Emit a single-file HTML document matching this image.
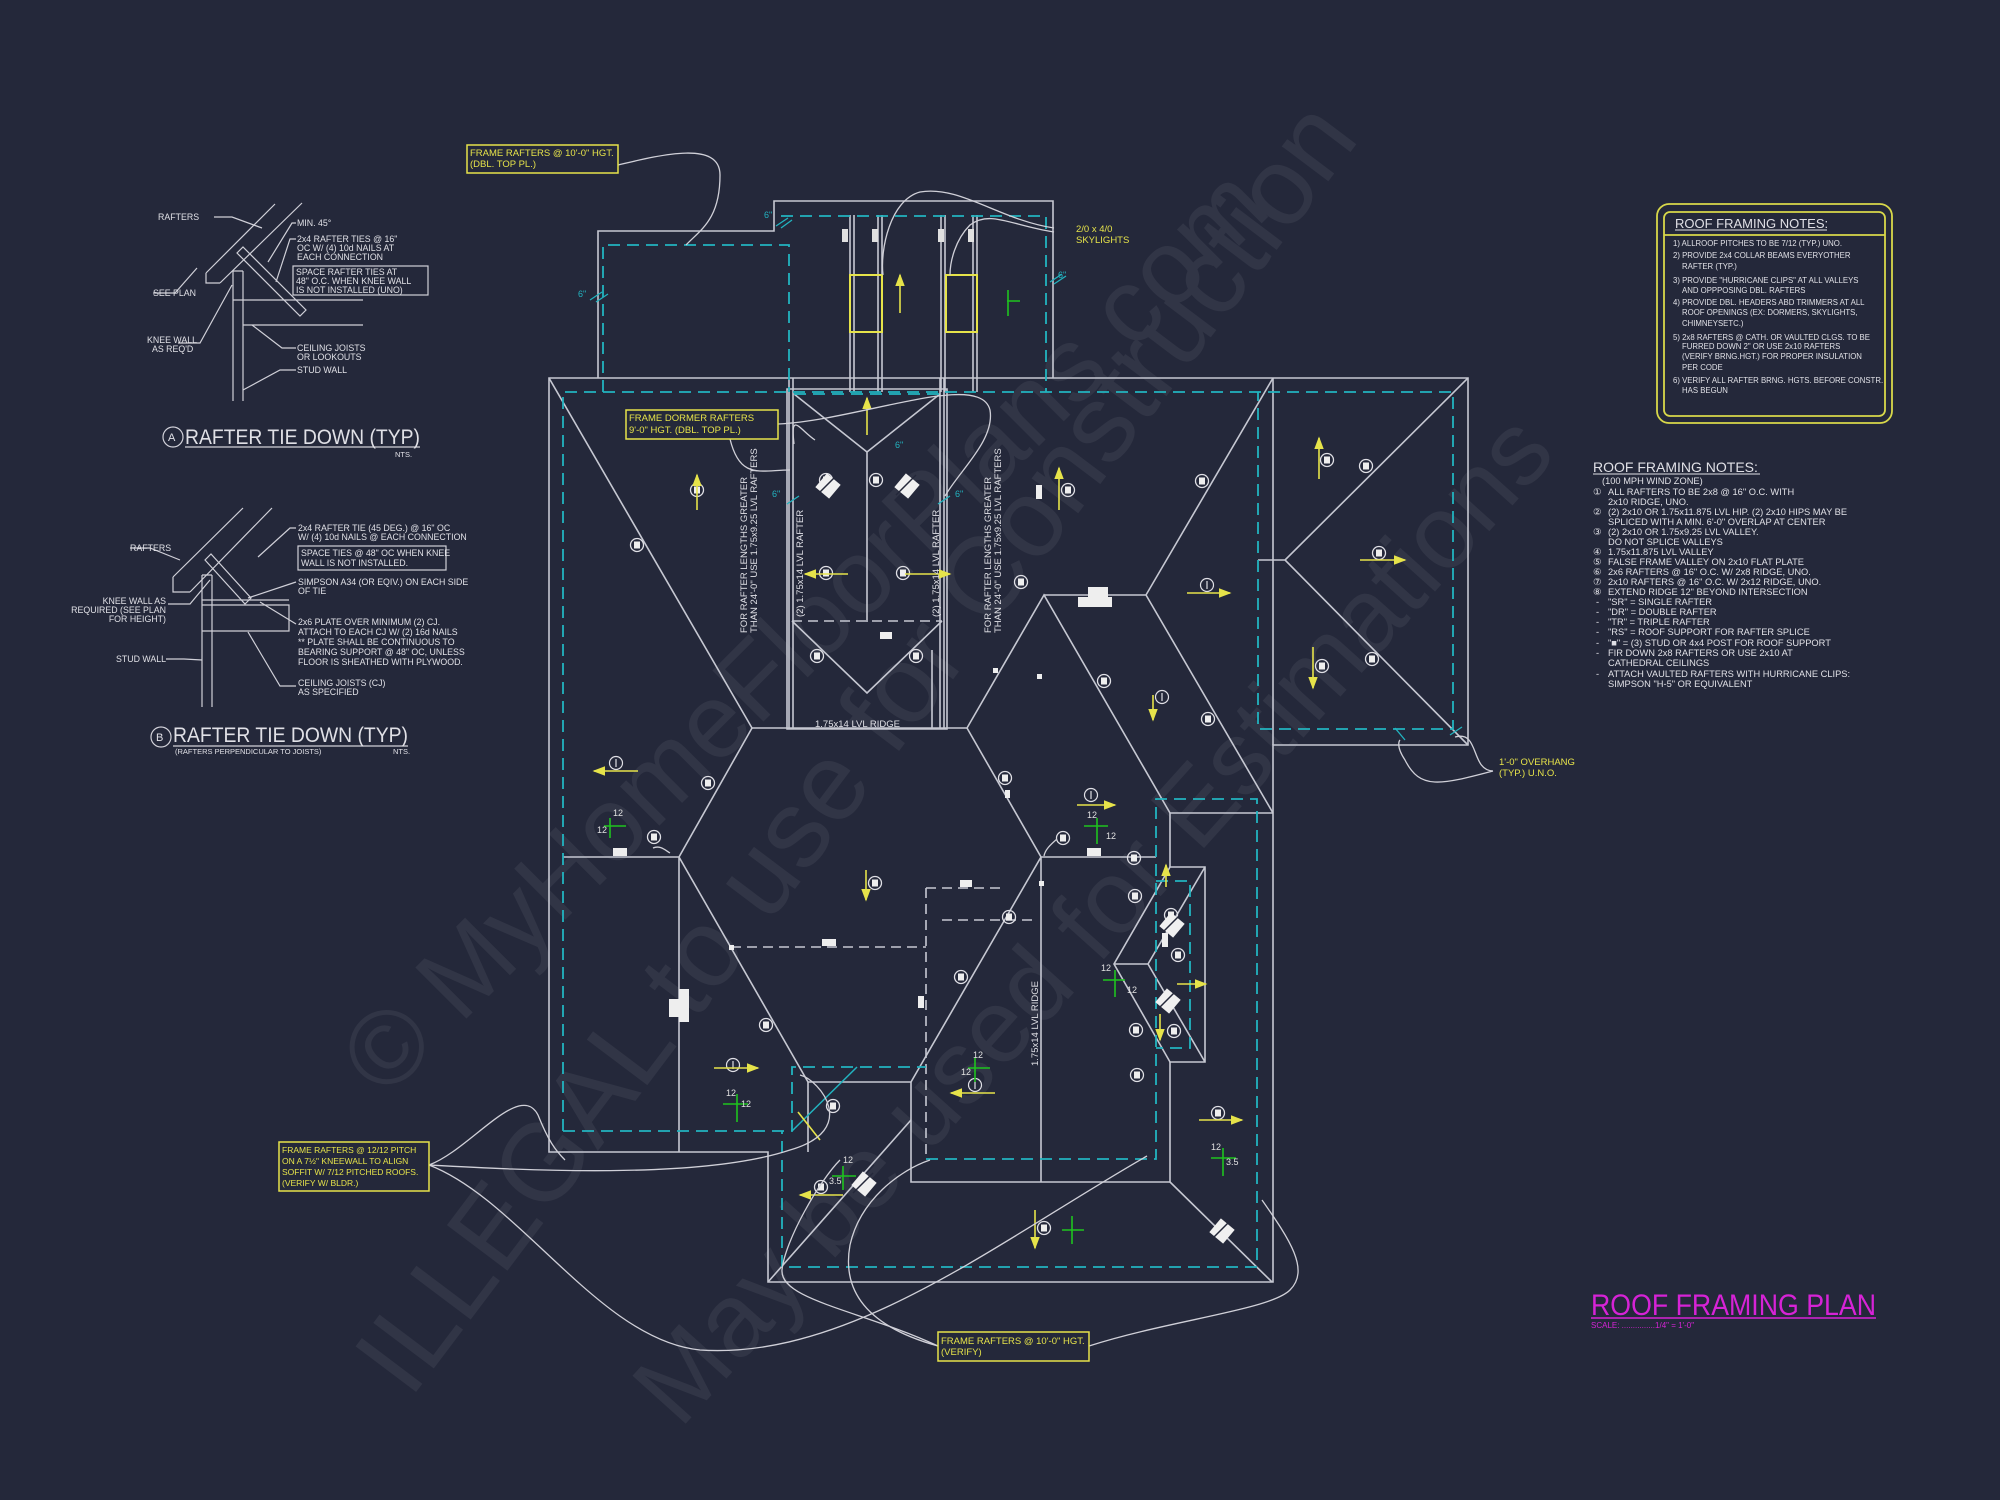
<!DOCTYPE html>
<html><head><meta charset="utf-8"><style>
html,body{margin:0;padding:0;background:#24283a;}
svg{display:block}
text{font-family:"Liberation Sans",sans-serif;}
</style></head><body>
<svg width="2000" height="1500" viewBox="0 0 2000 1500" xmlns="http://www.w3.org/2000/svg">
<defs>
<g id="tag"><circle r="6.5" fill="none" stroke="#e0e0e6" stroke-width="1.3"/><rect x="-3" y="-3.5" width="6" height="7" fill="#eeeeee"/></g>
<g id="one"><circle r="6.5" fill="none" stroke="#e0e0e6" stroke-width="1.2"/><line x1="0" y1="-4" x2="0" y2="4" stroke="#e0e0e6" stroke-width="1.2"/></g>
<g id="dia"><rect x="-9" y="-9" width="18" height="18" fill="#f0f0f0" transform="rotate(40)"/><line x1="-11" y1="9" x2="9" y2="-11" stroke="#24283a" stroke-width="1.5"/></g>
<marker id="ah" markerWidth="8" markerHeight="6" refX="7" refY="3" orient="auto"><path d="M0,0 L8,3 L0,6z" fill="#e6e34a"/></marker>
</defs>
<rect width="2000" height="1500" fill="#24283a"/>

<!-- watermark -->
<g fill="#ffffff" opacity="0.06" font-family="Liberation Serif,serif">
<text transform="translate(385,1100) rotate(-45)" font-size="105">© MyHomeFloorPlans.com</text>
<text transform="translate(410,1400) rotate(-53)" font-size="110">ILLEGAL to use for Construction</text>
<text transform="translate(680,1430) rotate(-48)" font-size="104">May be used for Estimations</text>
</g>

<!-- SOLID outlines -->
<g fill="none" stroke="#c6c8d2" stroke-width="1.6">
<path d="M598,378 V231 H774 V201 H1053 V378"/>
<path d="M549,378 H1468 V745 H1273 V1282 H768 V1152 H549 Z"/>
<path d="M1273,378 V745"/>
<path d="M808,1152 V1082 H911 V1182 H1170 V1062 M1170,867 V813 H1273"/>
<path d="M1170,867 H1205 V1062 H1170 L1114,964 Z M1205,867 L1148,964 L1205,1062 M1114,964 H1148"/>
<path d="M549,378 L752,728 H967 L1044,595 L1170,813"/>
<path d="M1044,595 H1146 L1273,378 M1146,595 L1273,813"/>
<path d="M752,728 L679,857 L808,1082 M679,857 V1152 M563,857 H679"/>
<path d="M967,728 L1041,857 L911,1082 M1041,857 V1182 M1041,857 H1156"/>
<path d="M1468,378 L1285,560 L1468,745 M1258,560 H1285"/>
<path d="M1170,1182 L1272,1282 M911,1120 L768,1282"/>
<path d="M787,389 H947 V729 H787 Z"/>
<path d="M789,378 V729 M793,378 V729 M940,378 V729 M944,378 V729"/>
<path d="M794,394 L867,452 L940,394 M867,452 V622 M792,621 L867,693 L942,621 M932,650 V729"/>
<path d="M850,215 V392 M854,215 V392 M878,215 V392 M882,215 V392 M941,215 V392 M945,215 V392 M973,215 V392 M977,215 V392"/>
</g>
<g fill="none" stroke="#c6c8d2" stroke-width="1.6" stroke-dasharray="10 6">
<path d="M792,621 H942"/>
<path d="M731,947 H926 M926,888 V1160 M926,888 H1005 M942,920 H1034"/>
</g>

<!-- CYAN dashed -->
<g fill="none" stroke="#22b4c0" stroke-width="1.8" stroke-dasharray="12 7">
<path d="M603,392 V245 H789 V392"/>
<path d="M781,216 H1046 V392"/>
<path d="M563,1131 V392 H1453 V729 H1258 V392"/>
<path d="M563,1131 H792 V1067 H926 M926,1159 H1156 V799 H1257 V1267 H782 V1131"/>
<path d="M1156,881 H1190 V1048 H1156"/>
<path d="M794,394 H940"/>
</g>
<g stroke="#22b4c0" stroke-width="1.5">
<line x1="792" y1="1131" x2="857" y2="1067"/>
</g>
<g fill="#22b4c0" font-size="9">
<text x="578" y="297">6"</text><text x="764" y="218">6"</text><text x="1058" y="278">6"</text>
<text x="772" y="497">6"</text><text x="955" y="497">6"</text><text x="895" y="448">6"</text>
</g>
<g stroke="#22b4c0" stroke-width="1.3">
<path d="M590,300 L602,292 M596,302 L608,294 M776,226 L788,218 M781,228 L792,220 M1050,282 L1062,274 M1054,284 L1066,276 M787,504 L799,496 M938,504 L950,496 M1450,735 L1462,727 M1395,728 L1405,740"/>
</g>

<!-- skylights -->
<g fill="none" stroke="#e6e34a" stroke-width="2">
<rect x="850" y="275" width="32" height="57"/>
<rect x="946" y="275" width="31" height="57"/>
</g>
<g fill="#e0e0e0">
<rect x="842" y="229" width="6" height="13"/><rect x="872" y="229" width="6" height="13"/>
<rect x="938" y="229" width="6" height="13"/><rect x="968" y="229" width="6" height="13"/>
</g>

<!-- tags -->
<g>
<use href="#tag" x="637" y="545"/><use href="#tag" x="697" y="490"/><use href="#tag" x="826" y="480"/><use href="#tag" x="876" y="480"/>
<use href="#tag" x="826" y="573"/><use href="#tag" x="903" y="573"/><use href="#tag" x="817" y="656"/><use href="#tag" x="916" y="656"/>
<use href="#tag" x="1068" y="490"/><use href="#tag" x="1202" y="481"/><use href="#tag" x="1327" y="460"/><use href="#tag" x="1366" y="466"/>
<use href="#tag" x="1379" y="553"/><use href="#tag" x="1322" y="666"/><use href="#tag" x="1372" y="659"/><use href="#tag" x="1021" y="582"/>
<use href="#tag" x="1208" y="719"/><use href="#tag" x="1104" y="681"/><use href="#tag" x="1005" y="778"/>
<use href="#tag" x="708" y="783"/><use href="#tag" x="654" y="837"/><use href="#tag" x="1063" y="838"/><use href="#tag" x="1134" y="858"/>
<use href="#tag" x="875" y="883"/><use href="#tag" x="961" y="977"/><use href="#tag" x="766" y="1025"/><use href="#tag" x="833" y="1106"/>
<use href="#tag" x="1136" y="1030"/><use href="#tag" x="1174" y="1031"/><use href="#tag" x="1135" y="896"/><use href="#tag" x="1171" y="915"/>
<use href="#tag" x="1178" y="955"/><use href="#tag" x="1218" y="1113"/><use href="#tag" x="821" y="1187"/><use href="#tag" x="1044" y="1228"/>
<use href="#tag" x="1137" y="1075"/><use href="#tag" x="1009" y="917"/>
</g>
<g>
<use href="#one" x="616" y="763"/><use href="#one" x="1091" y="795"/><use href="#one" x="733" y="1065"/><use href="#one" x="975" y="1085"/>
<use href="#one" x="1207" y="585"/><use href="#one" x="1162" y="697"/>
</g>
<g>
<use href="#dia" x="828" y="486"/><use href="#dia" x="907" y="486"/><use href="#dia" x="1172" y="925"/><use href="#dia" x="1168" y="1001"/>
<use href="#dia" x="864" y="1184"/><use href="#dia" x="1222" y="1231"/>
</g>
<g fill="#eeeeee">
<rect x="1088" y="587" width="20" height="10"/><rect x="1078" y="597" width="34" height="10"/>
<rect x="613" y="848" width="14" height="8"/><rect x="1087" y="848" width="14" height="8"/><rect x="880" y="632" width="12" height="7"/>
<rect x="960" y="880" width="12" height="7"/><rect x="822" y="939" width="14" height="7"/><rect x="918" y="996" width="6" height="12"/>
<rect x="669" y="999" width="10" height="18"/><rect x="679" y="989" width="10" height="33"/><rect x="1036" y="485" width="6" height="14"/>
<rect x="1162" y="933" width="6" height="14"/><rect x="993" y="668" width="5" height="5"/><rect x="1037" y="674" width="5" height="5"/>
<rect x="1005" y="790" width="5" height="8"/><rect x="1039" y="881" width="5" height="5"/><rect x="729" y="945" width="5" height="5"/>
</g>

<!-- yellow arrows -->
<g stroke="#e6e34a" stroke-width="1.6" fill="none" marker-end="url(#ah)">
<line x1="697" y1="510" x2="697" y2="475"/><line x1="867" y1="435" x2="867" y2="398"/><line x1="900" y1="313" x2="900" y2="275"/>
<line x1="848" y1="574" x2="805" y2="574"/><line x1="905" y1="574" x2="950" y2="574"/><line x1="1059" y1="510" x2="1059" y2="468"/>
<line x1="1319" y1="479" x2="1319" y2="438"/><line x1="1360" y1="560" x2="1405" y2="560"/><line x1="1313" y1="647" x2="1313" y2="688"/>
<line x1="1153" y1="695" x2="1153" y2="720"/><line x1="1187" y1="593" x2="1230" y2="593"/>
<line x1="638" y1="771" x2="594" y2="771"/><line x1="1077" y1="805" x2="1115" y2="805"/><line x1="866" y1="870" x2="866" y2="900"/>
<line x1="714" y1="1068" x2="758" y2="1068"/><line x1="995" y1="1093" x2="951" y2="1093"/><line x1="843" y1="1195" x2="800" y2="1195"/>
<line x1="1035" y1="1210" x2="1035" y2="1248"/><line x1="1199" y1="1120" x2="1242" y2="1120"/><line x1="1166" y1="887" x2="1166" y2="865"/>
<line x1="1160" y1="1014" x2="1160" y2="1040"/><line x1="1177" y1="984" x2="1206" y2="984"/>
</g>
<line x1="798" y1="1112" x2="820" y2="1140" stroke="#e6e34a" stroke-width="1.6"/>

<!-- green pitch marks -->
<g stroke="#1ec41e" stroke-width="1.6">
<path d="M604,826 H626 M610,818 V838"/><path d="M1084,826 H1108 M1097,818 V844"/><path d="M723,1104 H748 M737,1094 V1122"/>
<path d="M968,1068 H990 M975,1058 V1082"/><path d="M1103,980 H1125 M1115,970 V997"/><path d="M832,1176 H856 M843,1166 V1190"/>
<path d="M1211,1158 H1236 M1223,1148 V1176"/><path d="M1062,1230 H1084 M1072,1216 V1244"/><path d="M1007,301 H1020 M1008,290 V316"/>
</g>
<g fill="#e0e0e0" font-size="9">
<text x="613" y="816">12</text><text x="597" y="833">12</text><text x="1087" y="818">12</text><text x="1106" y="839">12</text>
<text x="726" y="1096">12</text><text x="741" y="1107">12</text><text x="973" y="1058">12</text><text x="961" y="1075">12</text>
<text x="1101" y="971">12</text><text x="1127" y="993">12</text><text x="843" y="1163">12</text><text x="829" y="1184">3.5</text>
<text x="1211" y="1150">12</text><text x="1226" y="1165">3.5</text>
</g>

<!-- vertical texts -->
<g fill="#e0e0e6" font-size="9.5">
<text transform="translate(747,633) rotate(-90)">FOR RAFTER LENGTHS GREATER</text>
<text transform="translate(757,633) rotate(-90)">THAN 24'-0" USE 1.75x9.25 LVL RAFTERS</text>
<text transform="translate(803,617) rotate(-90)">(2) 1.75x14 LVL RAFTER</text>
<text transform="translate(939,617) rotate(-90)">(2) 1.75x14 LVL RAFTER</text>
<text transform="translate(991,633) rotate(-90)">FOR RAFTER LENGTHS GREATER</text>
<text transform="translate(1001,633) rotate(-90)">THAN 24'-0" USE 1.75x9.25 LVL RAFTERS</text>
<text transform="translate(1038,1066) rotate(-90)">1.75x14 LVL RIDGE</text>
<text x="815" y="727">1.75x14 LVL RIDGE</text>
</g>

<!-- leader curves -->
<g fill="none" stroke="#d0d0d8" stroke-width="1.3">
<path d="M618,165 C660,155 720,140 720,175 C720,220 700,230 686,245"/>
<path d="M1054,228 C1000,220 960,185 920,192 C890,200 880,250 883,275"/>
<path d="M1054,232 C1010,225 990,210 970,225 C955,240 950,262 950,275"/>
<path d="M778,424 C860,420 980,370 990,410 C995,440 960,470 945,496"/>
<path d="M730,439 C740,480 760,470 790,470"/>
<path d="M794,444 C790,410 800,430 815,440"/>
<path d="M1493,771 C1470,770 1480,730 1455,737"/>
<path d="M1493,771 C1440,785 1420,790 1405,760 C1395,745 1400,740 1400,740"/>
<path d="M429,1165 C470,1150 520,1080 538,1115 C548,1140 555,1150 565,1160"/>
<path d="M429,1165 C520,1170 700,1180 790,1150 C860,1130 820,1080 800,1075"/>
<path d="M429,1165 C520,1200 600,1340 700,1350 C850,1360 1000,1240 1147,1156"/>
<path d="M938,1346 C880,1330 840,1300 850,1245 C860,1200 900,1170 930,1160"/>
<path d="M938,1346 C860,1310 780,1300 782,1270 C785,1240 820,1180 840,1160"/>
<path d="M1089,1346 C1170,1320 1270,1310 1290,1290 C1310,1270 1290,1240 1262,1200"/>
<path d="M653,848 C660,845 665,850 670,853 M1057,839 C1050,845 1045,850 1044,856"/>
</g>

<!-- yellow label boxes -->
<g fill="none" stroke="#e6e34a" stroke-width="1.5">
<rect x="467" y="145" width="151" height="28"/>
<rect x="626" y="410" width="152" height="29"/>
<rect x="279" y="1142" width="150" height="49"/>
<rect x="938" y="1332" width="151" height="29"/>
</g>
<g fill="#e6e34a" font-size="9.5">
<text x="470" y="156">FRAME RAFTERS @ 10'-0" HGT.</text><text x="470" y="167">(DBL. TOP PL.)</text>
<text x="629" y="421">FRAME DORMER RAFTERS</text><text x="629" y="433">9'-0" HGT. (DBL. TOP PL.)</text>
<text x="282" y="1153" font-size="8.5">FRAME RAFTERS @ 12/12 PITCH</text><text x="282" y="1164" font-size="8.5">ON A 7½" KNEEWALL TO ALIGN</text>
<text x="282" y="1175" font-size="8.5">SOFFIT W/ 7/12 PITCHED ROOFS.</text><text x="282" y="1186" font-size="8.5">(VERIFY W/ BLDR.)</text>
<text x="941" y="1344">FRAME RAFTERS @ 10'-0" HGT.</text><text x="941" y="1355">(VERIFY)</text>
<text x="1076" y="232">2/0 x 4/0</text><text x="1076" y="243">SKYLIGHTS</text>
<text x="1499" y="765">1'-0" OVERHANG</text><text x="1499" y="776">(TYP.) U.N.O.</text>
</g>

<!-- magenta title -->
<text x="1591" y="1315" fill="#d623d6" font-size="30" textLength="285" lengthAdjust="spacingAndGlyphs">ROOF FRAMING PLAN</text>
<line x1="1591" y1="1318" x2="1876" y2="1318" stroke="#d623d6" stroke-width="1.5"/>
<text x="1591" y="1328" fill="#d623d6" font-size="8">SCALE: ...............1/4" = 1'-0"</text>

<!-- boxed notes -->
<g fill="none" stroke="#d8d84a" stroke-width="1.8">
<rect x="1657" y="204" width="235" height="219" rx="12"/>
<rect x="1664" y="212" width="221" height="204" rx="6"/>
<line x1="1664" y1="235" x2="1885" y2="235"/>
</g>
<g fill="#e0e0e6">
<text x="1675" y="228" font-size="13">ROOF FRAMING NOTES:</text>
<line x1="1675" y1="230" x2="1827" y2="230" stroke="#e0e0e6"/>
<g font-size="7.8">
<text x="1673" y="246">1) ALLROOF PITCHES TO BE 7/12 (TYP.) UNO.</text>
<text x="1673" y="258">2) PROVIDE 2x4 COLLAR BEAMS EVERYOTHER</text>
<text x="1682" y="269">RAFTER (TYP.)</text>
<text x="1673" y="283">3) PROVIDE "HURRICANE CLIPS" AT ALL VALLEYS</text>
<text x="1682" y="293">AND OPPPOSING DBL. RAFTERS</text>
<text x="1673" y="305">4) PROVIDE DBL. HEADERS ABD TRIMMERS AT ALL</text>
<text x="1682" y="315">ROOF OPENINGS (EX: DORMERS, SKYLIGHTS,</text>
<text x="1682" y="326">CHIMNEYSETC.)</text>
<text x="1673" y="340">5) 2x8 RAFTERS @ CATH. OR VAULTED CLGS. TO BE</text>
<text x="1682" y="349">FURRED DOWN 2" OR USE 2x10 RAFTERS</text>
<text x="1682" y="359">(VERIFY BRNG.HGT.) FOR PROPER INSULATION</text>
<text x="1682" y="370">PER CODE</text>
<text x="1673" y="383">6) VERIFY ALL RAFTER BRNG. HGTS. BEFORE CONSTR.</text>
<text x="1682" y="393">HAS BEGUN</text>
</g>
</g>

<!-- second notes -->
<g fill="#e0e0e6">
<text x="1593" y="472" font-size="14">ROOF FRAMING NOTES:</text>
<line x1="1593" y1="474" x2="1760" y2="474" stroke="#e0e0e6"/>
<g font-size="9.3">
<text x="1602" y="484">(100 MPH WIND ZONE)</text>
<text x="1593" y="495">①</text><text x="1608" y="495">ALL RAFTERS TO BE 2x8 @ 16" O.C. WITH</text>
<text x="1608" y="505">2x10 RIDGE, UNO.</text>
<text x="1593" y="515">②</text><text x="1608" y="515">(2) 2x10 OR 1.75x11.875 LVL HIP. (2) 2x10 HIPS MAY BE</text>
<text x="1608" y="525">SPLICED WITH A MIN. 6'-0" OVERLAP AT CENTER</text>
<text x="1593" y="535">③</text><text x="1608" y="535">(2) 2x10 OR 1.75x9.25 LVL VALLEY.</text>
<text x="1608" y="545">DO NOT SPLICE VALLEYS</text>
<text x="1593" y="555">④</text><text x="1608" y="555">1.75x11.875 LVL VALLEY</text>
<text x="1593" y="565">⑤</text><text x="1608" y="565">FALSE FRAME VALLEY ON 2x10 FLAT PLATE</text>
<text x="1593" y="575">⑥</text><text x="1608" y="575">2x6 RAFTERS @ 16" O.C. W/ 2x8 RIDGE, UNO.</text>
<text x="1593" y="585">⑦</text><text x="1608" y="585">2x10 RAFTERS @ 16" O.C. W/ 2x12 RIDGE, UNO.</text>
<text x="1593" y="595">⑧</text><text x="1608" y="595">EXTEND RIDGE 12" BEYOND INTERSECTION</text>
<text x="1596" y="605">-</text><text x="1608" y="605">"SR" = SINGLE RAFTER</text>
<text x="1596" y="615">-</text><text x="1608" y="615">"DR" = DOUBLE RAFTER</text>
<text x="1596" y="625">-</text><text x="1608" y="625">"TR" = TRIPLE RAFTER</text>
<text x="1596" y="635">-</text><text x="1608" y="635">"RS" = ROOF SUPPORT FOR RAFTER SPLICE</text>
<text x="1596" y="646">-</text><text x="1608" y="646">"■"  = (3) STUD OR 4x4 POST FOR ROOF SUPPORT</text>
<text x="1596" y="656">-</text><text x="1608" y="656">FIR DOWN 2x8 RAFTERS OR USE 2x10 AT</text>
<text x="1608" y="666">CATHEDRAL CEILINGS</text>
<text x="1596" y="677">-</text><text x="1608" y="677">ATTACH VAULTED RAFTERS WITH HURRICANE CLIPS:</text>
<text x="1608" y="687">SIMPSON "H-5" OR EQUIVALENT</text>
</g>
</g>

<!-- Detail A -->
<g fill="none" stroke="#d0d0d8" stroke-width="1.2">
<path d="M206,273 L275,204 M220,283 L302,203 M206,273 V283 H220"/>
<path d="M233,271 V401 M243,271 V401 M233,271 H243 M233,300 H363 M243,325 H363"/>
<path d="M237,253 L300,316 L306,310 L243,247 Z"/>
<path d="M214,217 H232 L262,228 M153,293 H175 L197,268 M178,343 H200 L232,285 M296,348 H282 L252,325 M296,370 H280 L243,390"/>
<path d="M296,223 H292 L268,262 M296,239 H290 L276,282"/>
<rect x="293" y="266" width="135" height="29"/>
<circle cx="173" cy="437" r="10"/>
<line x1="185" y1="447" x2="420" y2="447"/>
</g>
<g fill="#e0e0e6" font-size="8.8">
<text x="158" y="220">RAFTERS</text>
<text x="297" y="226">MIN. 45°</text>
<text x="297" y="242">2x4 RAFTER TIES @ 16"</text>
<text x="297" y="251">OC W/ (4) 10d NAILS AT</text>
<text x="297" y="260">EACH CONNECTION</text>
<text x="296" y="275">SPACE RAFTER TIES AT</text>
<text x="296" y="284">48" O.C. WHEN KNEE WALL</text>
<text x="296" y="293">IS NOT INSTALLED (UNO)</text>
<text x="153" y="296">SEE PLAN</text>
<text x="147" y="343">KNEE WALL</text><text x="152" y="352">AS REQ'D</text>
<text x="297" y="351">CEILING JOISTS</text><text x="297" y="360">OR LOOKOUTS</text>
<text x="297" y="373">STUD WALL</text>
<text x="168" y="441" font-size="11">A</text>
<text x="185" y="444" font-size="21" textLength="235" lengthAdjust="spacingAndGlyphs">RAFTER TIE DOWN (TYP)</text>
<text x="395" y="457" font-size="7.5">NTS.</text>
</g>

<!-- Detail B -->
<g fill="none" stroke="#d0d0d8" stroke-width="1.2">
<path d="M173,577 L243,508 M190,592 L272,508 M173,577 V592 H190"/>
<path d="M202,575 V707 M212,575 V707 M202,575 H212 M202,600 H289 M202,605 H289 V631 H202"/>
<path d="M205,560 L245,604 L251,598 L211,554 Z"/>
<path d="M130,548 H150 L180,560 M168,604 H190 L210,580 M166,659 H184 L202,660"/>
<path d="M296,528 H290 L258,557 M296,582 L248,598 M296,624 L260,602 M296,686 H280 L248,632"/>
<rect x="298" y="546" width="148" height="24"/>
<circle cx="161" cy="737" r="10"/>
<line x1="173" y1="746" x2="408" y2="746"/>
</g>
<g fill="#e0e0e6" font-size="8.8">
<text x="130" y="551">RAFTERS</text>
<text x="298" y="531">2x4 RAFTER TIE (45 DEG.) @ 16" OC</text>
<text x="298" y="540">W/ (4) 10d NAILS @ EACH CONNECTION</text>
<text x="301" y="556">SPACE TIES @ 48" OC WHEN KNEE</text>
<text x="301" y="566">WALL IS NOT INSTALLED.</text>
<text x="298" y="585">SIMPSON A34 (OR EQIV.) ON EACH SIDE</text>
<text x="298" y="594">OF TIE</text>
<text x="166" y="604" text-anchor="end">KNEE WALL AS</text>
<text x="166" y="613" text-anchor="end">REQUIRED (SEE PLAN</text>
<text x="166" y="622" text-anchor="end">FOR HEIGHT)</text>
<text x="298" y="625">2x6 PLATE OVER MINIMUM (2) CJ.</text>
<text x="298" y="635">ATTACH TO EACH CJ W/ (2) 16d NAILS</text>
<text x="298" y="645">** PLATE SHALL BE CONTINUOUS TO</text>
<text x="298" y="655">BEARING SUPPORT @ 48" OC, UNLESS</text>
<text x="298" y="665">FLOOR IS SHEATHED WITH PLYWOOD.</text>
<text x="166" y="662" text-anchor="end">STUD WALL</text>
<text x="298" y="686">CEILING JOISTS (CJ)</text>
<text x="298" y="695">AS SPECIFIED</text>
<text x="156" y="741" font-size="11">B</text>
<text x="173" y="742" font-size="21" textLength="235" lengthAdjust="spacingAndGlyphs">RAFTER TIE DOWN (TYP)</text>
<text x="175" y="754" font-size="7.5">(RAFTERS PERPENDICULAR TO JOISTS)</text>
<text x="393" y="754" font-size="7.5">NTS.</text>
</g>
</svg>
</body></html>
